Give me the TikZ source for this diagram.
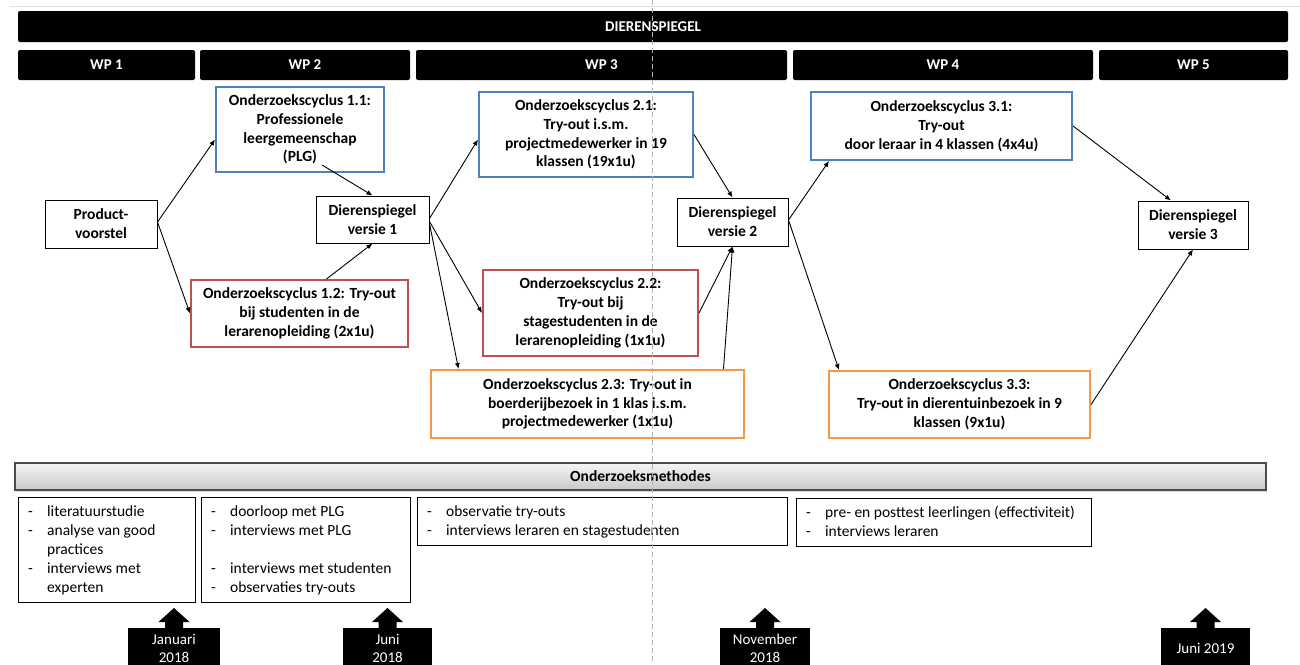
\documentclass[tikz,border=0pt]{standalone}
\usepackage{fontspec}
\setmainfont{Carlito}
\usetikzlibrary{arrows.meta,shadows,calc}
\definecolor{ocb}{RGB}{79,129,189}
\definecolor{ocr}{RGB}{192,80,77}
\definecolor{oco}{RGB}{247,150,70}
\begin{document}
\begin{tikzpicture}[x=1pt,y=-1pt,
  bar/.style={fill=black, rounded corners=2pt, text=white, font=\bfseries\fontsize{15}{18}\selectfont, inner sep=0pt},
  box/.style={draw=black, line width=1pt, fill=white, align=center, inner sep=1pt, font=\bfseries\fontsize{15.5}{18.8}\selectfont},
  cycb/.style={box, draw=ocb, line width=2pt},
  cycr/.style={box, draw=ocr, line width=2pt},
  cyco/.style={box, draw=oco, line width=2pt},
  arr/.style={-{Latex[length=6pt,width=5pt]}, line width=0.9pt},
  mbox/.style={draw, line width=1pt, anchor=north west, inner sep=0pt},
  mtext/.style={anchor=north west, inner sep=0pt, font=\fontsize{15.5}{19}\selectfont},
  datebox/.style={fill=black, text=white, anchor=north, align=center, minimum height=40pt, inner sep=2pt, font=\fontsize{15}{18.5}\selectfont},
]
\clip (0,0) rectangle (1300,664);
\fill[white] (0,0) rectangle (1300,664);
\draw[gray!25, line width=1pt] (10,6) -- (1300,6);

% top bars
\node[bar, minimum width=1270pt, minimum height=31pt] (dsbar) at (653,26.5) {DIERENSPIEGEL};
\node[bar, minimum width=177pt, minimum height=30pt] (wp1) at (106.5,65) {WP 1};
\node[bar, minimum width=210pt, minimum height=30pt] (wp2) at (305,65) {WP 2};
\node[bar, minimum width=371pt, minimum height=30pt] (wp3) at (601.5,65) {WP 3};
\node[bar, minimum width=300pt, minimum height=30pt] (wp4) at (943,65) {WP 4};
\node[bar, minimum width=189pt, minimum height=30pt] (wp5) at (1193.5,65) {WP 5};

% flow nodes
\node[box, minimum width=112pt, minimum height=48pt] (pv) at (101,224) {Product-\\voorstel};
\node[cycb, minimum width=168pt, minimum height=85pt] (oc11) at (300,129.5) {Onderzoekscyclus 1.1:\\Professionele\\leergemeenschap\\(PLG)};
\node[cycr, minimum width=217pt, minimum height=67pt] (oc12) at (299.5,313.5) {Onderzoekscyclus 1.2: Try-out\\bij studenten in de\\lerarenopleiding (2x1u)};
\node[box, minimum width=113pt, minimum height=47pt] (ds1) at (372.5,219.5) {Dierenspiegel\\versie 1};
\node[cycb, minimum width=214pt, minimum height=85pt] (oc21) at (586,134.5) {Onderzoekscyclus 2.1:\\Try-out i.s.m.\\projectmedewerker in 19\\klassen (19x1u)};
\node[cycr, minimum width=215pt, minimum height=86pt] (oc22) at (590.5,313) {Onderzoekscyclus 2.2:\\Try-out bij\\stagestudenten in de\\lerarenopleiding (1x1u)};
\node[cyco, minimum width=313pt, minimum height=68pt] (oc23) at (587.5,404) {Onderzoekscyclus 2.3: Try-out in\\boerderijbezoek in 1 klas i.s.m.\\projectmedewerker (1x1u)};
\node[box, minimum width=111pt, minimum height=48pt] (ds2) at (732.5,222) {Dierenspiegel\\versie 2};
\node[cycb, minimum width=261pt, minimum height=68pt] (oc31) at (941.5,126) {Onderzoekscyclus 3.1:\\Try-out\\door leraar in 4 klassen (4x4u)};
\node[cyco, minimum width=261pt, minimum height=67pt] (oc33) at (959.5,404.5) {Onderzoekscyclus 3.3:\\Try-out in dierentuinbezoek in 9\\klassen (9x1u)};
\node[box, minimum width=110pt, minimum height=48pt] (ds3) at (1193,225) {Dierenspiegel\\versie 3};

% connectors
\draw[arr] ([yshift=2pt]pv.east) -- ([yshift=-10pt]oc11.west);
\draw[arr] ([yshift=2pt]pv.east) -- (oc12.west);
\draw[arr] ([xshift=22pt,yshift=8pt]oc11.south) -- (ds1.north);
\draw[arr] ([xshift=27pt]oc12.north) -- (ds1.south);
\draw[arr] ([yshift=1pt]ds1.east) -- ([yshift=-5pt]oc21.west);
\draw[arr] ([yshift=-2pt]ds1.east) -- (oc22.west);
\draw[arr] ([yshift=-4pt]ds1.east) -- ([xshift=-129pt]oc23.north);
\draw[arr] (oc21.east) -- (ds2.north);
\draw[arr] (oc22.east) -- (ds2.south);
\draw[arr] ([xshift=136pt]oc23.north) -- (ds2.south);
\draw[arr] ([yshift=2pt]ds2.east) -- ([xshift=19pt]oc31.south west);
\draw[arr] ([yshift=2pt]ds2.east) -- ([xshift=11pt]oc33.north west);
\draw[arr] (oc31.east) -- ([xshift=-22pt]ds3.north);
\draw[arr] (oc33.east) -- (ds3.south);

% methods
\node[draw=gray!60!black, line width=1.4pt, top color=gray!8, bottom color=gray!42,
      drop shadow={shadow xshift=1pt, shadow yshift=-2pt, opacity=0.3},
      minimum width=1251pt, minimum height=27pt, inner sep=0pt,
      font=\bfseries\fontsize{15.5}{18}\selectfont] (om) at (640.5,476.5) {Onderzoeksmethodes};

\node[mbox, minimum width=177pt, minimum height=105pt] (m1) at (18,497) {};
\node[mtext] (t1) at ([xshift=10pt,yshift=-5.5pt]m1.north west) {\begin{tabular}{@{}p{19pt}@{}l@{}}
-&literatuurstudie\\
-&analyse van good\\
&practices\\
-&interviews met\\
&experten
\end{tabular}};
\node[mbox, minimum width=209pt, minimum height=105pt] (m2) at (201,497) {};
\node[mtext] (t2) at ([xshift=10pt,yshift=-5.5pt]m2.north west) {\begin{tabular}{@{}p{19pt}@{}l@{}}
-&doorloop met PLG\\
-&interviews met PLG\\
&\\
-&interviews met studenten\\
-&observaties try-outs
\end{tabular}};
\node[mbox, minimum width=370pt, minimum height=48pt] (m3) at (417,497) {};
\node[mtext] (t3) at ([xshift=10pt,yshift=-5.5pt]m3.north west) {\begin{tabular}{@{}p{19pt}@{}l@{}}
-&observatie try-outs\\
-&interviews leraren en stagestudenten
\end{tabular}};
\node[mbox, minimum width=295pt, minimum height=48pt] (m4) at (796,498) {};
\node[mtext] (t4) at ([xshift=10pt,yshift=-5.5pt]m4.north west) {\begin{tabular}{@{}p{19pt}@{}l@{}}
-&pre- en posttest leerlingen (effectiviteit)\\
-&interviews leraren
\end{tabular}};

% dates
\node[datebox, minimum width=92pt] (d1) at (174,628) {Januari\\2018};
\node[datebox, minimum width=89pt] (d2) at (387.5,628) {Juni\\2018};
\node[datebox, minimum width=90pt] (d3) at (765,628) {November\\2018};
\node[datebox, minimum width=89pt] (d4) at (1205.5,628) {Juni 2019};
\foreach \n in {d1,d2,d3,d4}
  \fill ([xshift=-9pt]\n.north) -- ++(0,-6) -- ++(-6.5,0) -- ++(15.5,-14) -- ++(15.5,14) -- ++(-6.5,0) -- ++(0,6) -- cycle;

% dashed vertical line
\draw[gray!60, line width=0.8pt, dash pattern=on 5pt off 3pt] (652,0) -- (652,664);
\end{tikzpicture}
\end{document}
